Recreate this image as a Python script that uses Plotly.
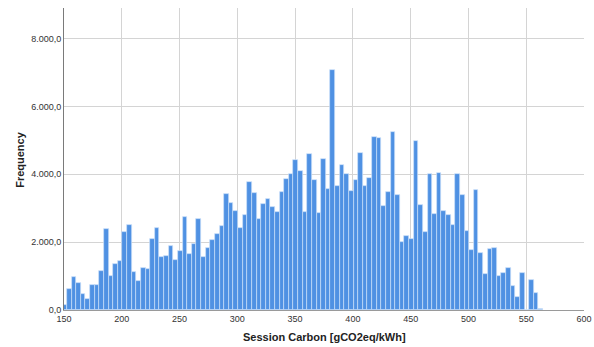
import numpy as np
import plotly.graph_objects as go

# Histogram of session carbon intensity: bins of 4 gCO2eq/kWh starting at 148.6
bin_start = 148.6
bin_width = 4.0
frequencies = [
    150, 610, 985, 800, 470, 325, 730, 740, 1135, 2375,
    1005, 1350, 1440, 2295, 2500, 1125, 850, 1250, 1200, 2090,
    2425, 1565, 1605, 1900, 1460, 1745, 2750, 1645, 1950, 2675,
    1550, 1815, 2050, 2245, 2480, 3410, 3145, 2910, 2420, 2795,
    3775, 3460, 2685, 3115, 3285, 3040, 2880, 3490, 3870, 4020,
    4420, 4105, 2900, 4605, 3840, 2850, 4450, 3575, 7085, 3645,
    4265, 4020, 3500, 3830, 4625, 3645, 3900, 5095, 5055, 3060,
    3490, 5250, 3380, 2000, 2195, 2080, 4980, 3095, 2295, 4000,
    2840, 4045, 2920, 2810, 2500, 4020, 3380, 2330, 1765, 3550,
    1685, 1070, 1785, 1835, 990, 1100, 1225, 705, 380, 1090,
    10, 880, 500, 40,
]
bin_centers = bin_start + bin_width * (np.arange(len(frequencies)) + 0.5)

x_ticks = [150, 200, 250, 300, 350, 400, 450, 500, 550, 600]
y_ticks = [0, 2000, 4000, 6000, 8000]

font_family = "Liberation Sans, Arial, sans-serif"

fig = go.Figure(
    go.Bar(
        x=bin_centers,
        y=frequencies,
        width=bin_width,
        marker=dict(
            color="#4f91e3",
            line=dict(color="rgba(205,225,250,0.95)", width=0.7),
        ),
    )
)

fig.update_layout(
    width=594,
    height=347,
    margin=dict(l=64, r=10, t=8, b=37),
    paper_bgcolor="white",
    plot_bgcolor="white",
    separators=",.",
    bargap=0,
    showlegend=False,
    font=dict(family=font_family, size=9, color="#333333"),
)

fig.update_xaxes(
    range=[150, 600],
    tickvals=x_ticks,
    ticktext=[str(v) for v in x_ticks],
    automargin=False,
    showgrid=True,
    gridcolor="#d4d4d4",
    gridwidth=1,
    showline=True,
    linecolor="#9a9a9a",
    linewidth=1,
    ticks="",
    zeroline=False,
    tickfont=dict(size=9, color="#333333"),
)

fig.update_yaxes(
    range=[0, 8900],
    tickvals=y_ticks,
    tickformat=",.1f",
    automargin=False,
    showgrid=True,
    gridcolor="#d4d4d4",
    gridwidth=1,
    showline=True,
    linecolor="#7a7a7a",
    linewidth=1,
    ticks="",
    zeroline=False,
    tickfont=dict(size=9, color="#333333"),
)

# Axis titles placed as paper-anchored annotations
title_font = dict(family=font_family, size=11, color="#222222")
fig.add_annotation(
    text="<b>Session Carbon [gCO2eq/kWh]</b>",
    xref="paper", yref="paper", x=0.5, y=-0.089,
    xanchor="center", yanchor="middle",
    showarrow=False, font=title_font,
)
fig.add_annotation(
    text="<b>Frequency</b>",
    xref="paper", yref="paper", x=-0.085, y=0.5,
    xanchor="center", yanchor="middle", textangle=-90,
    showarrow=False, font=title_font,
)

fig.write_html("out.html")
